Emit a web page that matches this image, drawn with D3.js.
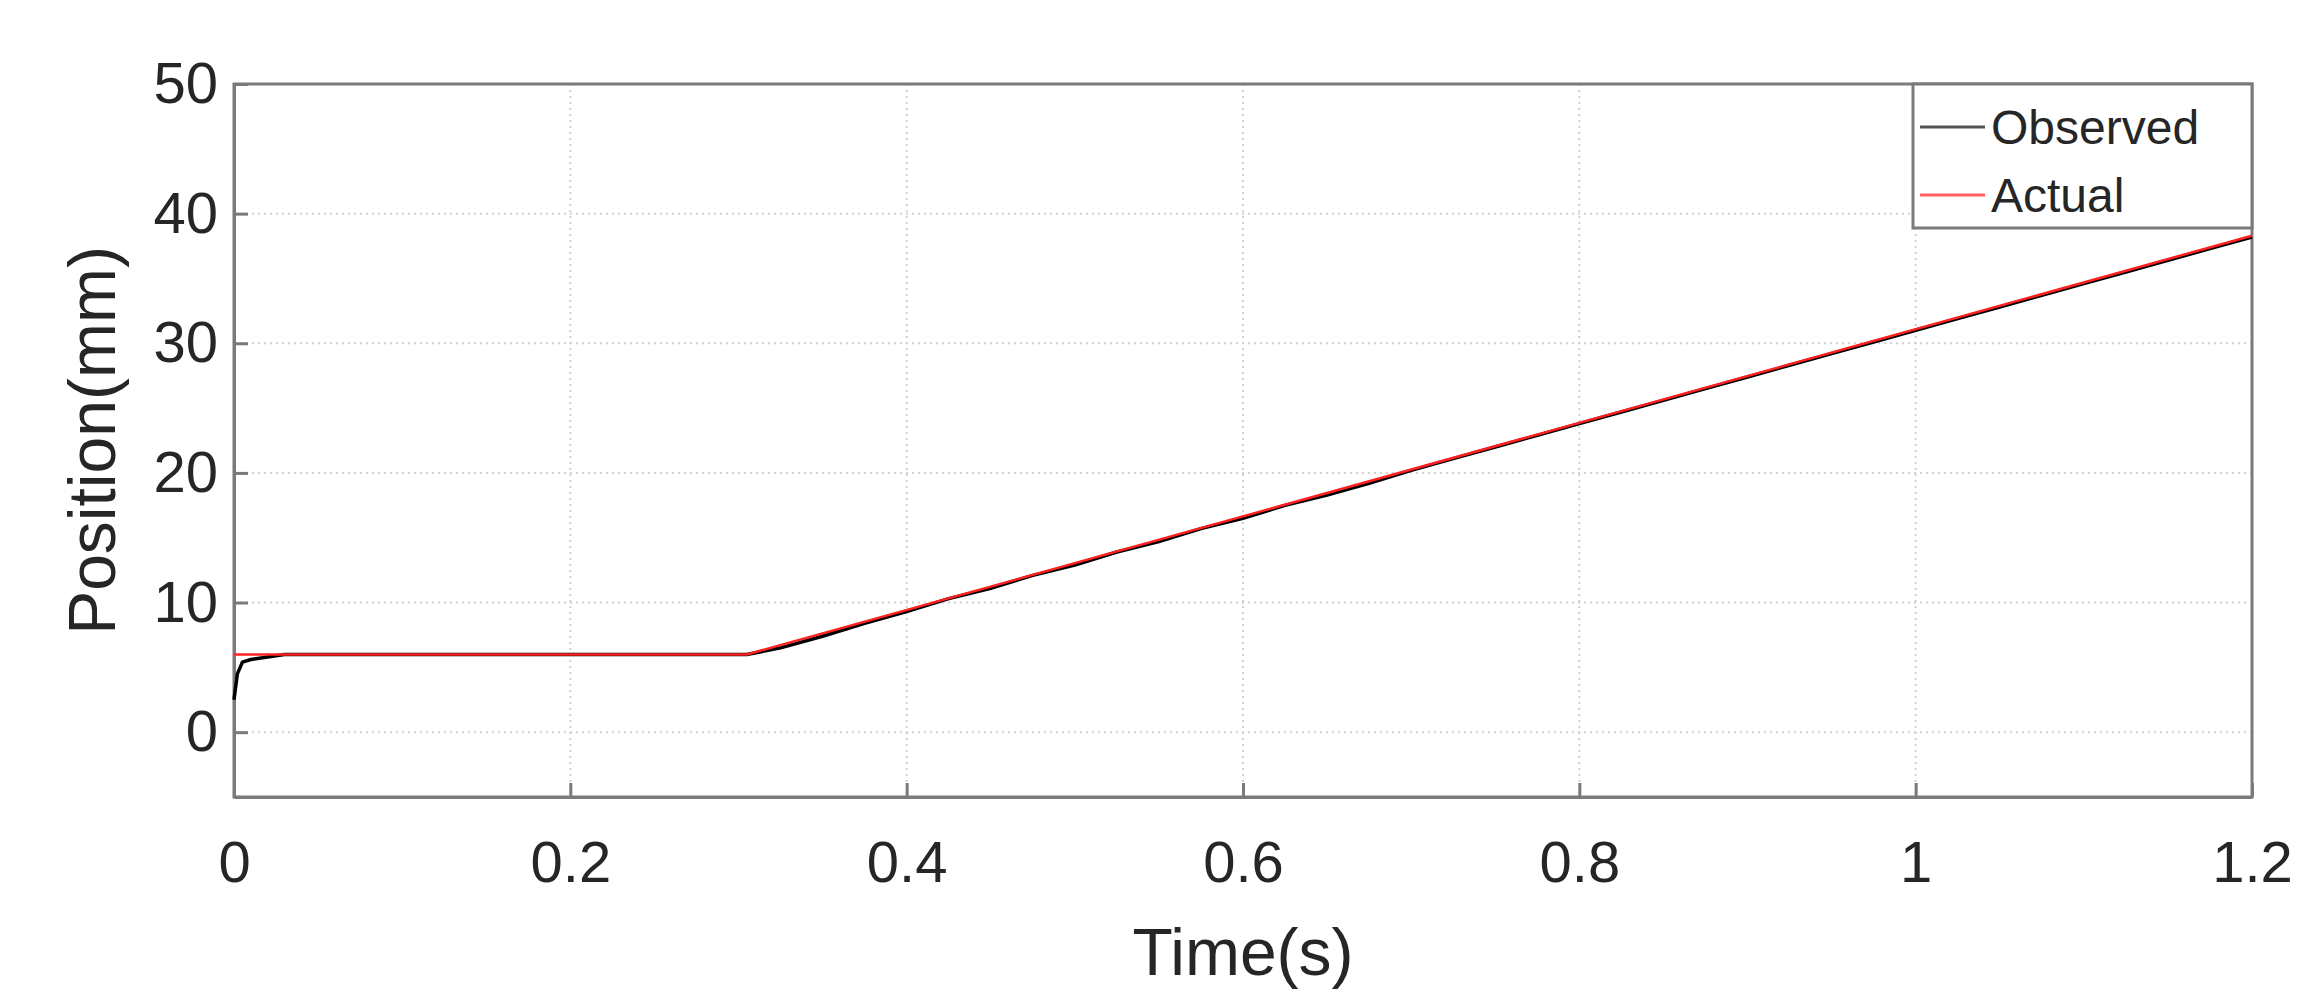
<!DOCTYPE html>
<html>
<head>
<meta charset="utf-8">
<script src="https://cdn.jsdelivr.net/npm/d3@7"></script>
<style>
  body { margin: 0; background: #fff; }
  text { font-family: "Liberation Sans", Arial, sans-serif; fill: #262626; }
</style>
</head>
<body>
<svg id="chart"></svg>
<script>
// Data
const xTicks = [0, 0.2, 0.4, 0.6, 0.8, 1, 1.2];
const yTicks = [0, 10, 20, 30, 40, 50];

const actualTime = [0, 0.305, 1.2];
const actualPos = [6, 6, 38.3];

const observedTime = [0, 0.002, 0.005, 0.01, 0.02, 0.03, 0.305, 0.325, 0.35, 0.375, 0.4, 0.425, 0.45, 0.475, 0.5,
  0.525, 0.55, 0.575, 0.6, 0.625, 0.65, 0.675, 0.7, 0.725, 0.75, 0.775, 0.8, 0.825, 0.85, 0.875, 0.9,
  0.925, 0.95, 0.975, 1.0, 1.025, 1.05, 1.075, 1.1, 1.125, 1.15, 1.175, 1.2];
const observedPos = [2.5, 4.5, 5.4, 5.6, 5.8, 6, 6, 6.5, 7.4, 8.4, 9.3, 10.3, 11.1, 12.1, 12.9,
  13.9, 14.7, 15.7, 16.5, 17.5, 18.3, 19.2, 20.2, 21.1, 22.0, 22.9, 23.8, 24.7, 25.6, 26.5, 27.4,
  28.3, 29.2, 30.1, 31.0, 31.9, 32.8, 33.7, 34.6, 35.5, 36.4, 37.3, 38.2];

const W = 2306, H = 994;
const margin = { top: 84, right: 54, bottom: 197, left: 234 };
const width = W - margin.left - margin.right;
const height = H - margin.top - margin.bottom;

const svg = d3.select("#chart").attr("width", W).attr("height", H);
const g = svg.append("g").attr("transform", `translate(${margin.left},${margin.top})`);

const x = d3.scaleLinear().domain([0, 1.2]).range([0, width]);
const y = d3.scaleLinear().domain([-5, 50]).range([height, 0]);

// grid
g.selectAll(".vgrid").data(xTicks.slice(1, -1)).join("line")
  .attr("x1", d => x(d)).attr("x2", d => x(d)).attr("y1", 0).attr("y2", height)
  .attr("stroke", "#d0d0d0").attr("stroke-width", 2).attr("stroke-dasharray", "2,4");
g.selectAll(".hgrid").data(yTicks.slice(0, -1)).join("line")
  .attr("x1", 0).attr("x2", width).attr("y1", d => y(d)).attr("y2", d => y(d))
  .attr("stroke", "#d0d0d0").attr("stroke-width", 2).attr("stroke-dasharray", "2,4");

// axes
const xAxis = g.append("g").attr("transform", `translate(0,${height})`)
  .call(d3.axisBottom(x).tickValues(xTicks).tickFormat(d3.format("")).tickSizeInner(-14).tickSizeOuter(0).tickPadding(44));
const yAxis = g.append("g")
  .call(d3.axisLeft(y).tickValues(yTicks).tickSizeInner(-14).tickSizeOuter(0).tickPadding(16));
[xAxis, yAxis].forEach(a => {
  a.select(".domain").attr("stroke", "#7a7a7a").attr("stroke-width", 3);
  a.selectAll(".tick line").attr("stroke", "#7a7a7a").attr("stroke-width", 3);
  a.selectAll("text").style("font-size", "58px").attr("fill", "#262626");
});
g.append("rect").attr("width", width).attr("height", height)
  .attr("fill", "none").attr("stroke", "#7a7a7a").attr("stroke-width", 3);

// lines
g.append("path")
  .datum(observedTime.map((t, i) => [t, observedPos[i]]))
  .attr("d", d3.line().x(d => x(d[0])).y(d => y(d[1])))
  .attr("fill", "none").attr("stroke", "#000").attr("stroke-width", 3.5);
g.append("path")
  .datum(actualTime.map((t, i) => [t, actualPos[i]]))
  .attr("d", d3.line().x(d => x(d[0])).y(d => y(d[1])))
  .attr("fill", "none").attr("stroke", "#ff2020").attr("stroke-width", 2.5);

// axis labels
svg.append("text").attr("x", margin.left + width / 2).attr("y", 975)
  .attr("text-anchor", "middle").style("font-size", "66px").text("Time(s)");
svg.append("text").attr("transform", `translate(92,${margin.top + height / 2}) rotate(-90)`)
  .attr("text-anchor", "middle").attr("dy", "0.35em").style("font-size", "66px").text("Position(mm)");

// legend
const lg = svg.append("g").attr("transform", `translate(1913,84)`);
lg.append("rect").attr("width", 339).attr("height", 144)
  .attr("fill", "#fff").attr("stroke", "#7a7a7a").attr("stroke-width", 3);
const legendItems = [{ label: "Observed", color: "#555" }, { label: "Actual", color: "#ff6060" }];
legendItems.forEach((it, i) => {
  const cy = 43 + i * 68;
  lg.append("line").attr("x1", 7).attr("x2", 72).attr("y1", cy).attr("y2", cy)
    .attr("stroke", it.color).attr("stroke-width", 3);
  lg.append("text").attr("x", 78).attr("y", cy).attr("dy", "0.35em")
    .style("font-size", "48px").text(it.label);
});
</script>
</body>
</html>
